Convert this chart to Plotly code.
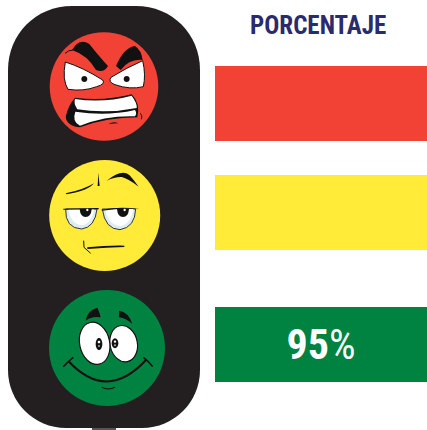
import re
import math
import plotly.graph_objects as go

W, H = 427, 430

# ---- data ----
levels = ["Rojo", "Amarillo", "Verde"]
bar_centers = [103.5, 212.5, 344.5]
bar_colors = ["#F24236", "#FFEB38", "#008241"]
bar_labels = ["", "", "<b>95</b>%"]
title_text = "PORCENTAJE"

BLACK = "#231F20"
INK = "#111111"


def z(path, ox=0, oy=0):
    """Convert a path traced on a 3x crop into page coordinates."""
    out, i = [], 0
    for tok in re.findall(r"[A-Z]|-?\d+\.?\d*", path):
        if tok.isalpha():
            out.append(tok)
        else:
            v = float(tok) / 3 + (oy if i % 2 else ox)
            out.append(f"{v:.2f}")
            i += 1
    s = ""
    for t in out:
        s += (t if t.isalpha() else t + " ")
    return s.strip()


def shp(path, fill=None, line=None, lw=0):
    d = dict(type="path", path=path, xref="x", yref="y", layer="above")
    d["fillcolor"] = fill if fill else "rgba(0,0,0,0)"
    d["line"] = dict(color=line if line else "rgba(0,0,0,0)", width=lw)
    return d


def ell(cx, cy, rx, ry, rot=0.0):
    k = 0.5523
    pts = [(rx, 0), (rx, k * ry), (k * rx, ry), (0, ry), (-k * rx, ry), (-rx, k * ry),
           (-rx, 0), (-rx, -k * ry), (-k * rx, -ry), (0, -ry), (k * rx, -ry), (rx, -k * ry), (rx, 0)]
    a = math.radians(rot)
    p = [(cx + x * math.cos(a) - y * math.sin(a), cy + x * math.sin(a) + y * math.cos(a)) for x, y in pts]
    s = f"M {p[0][0]:.1f},{p[0][1]:.1f} "
    for i in range(1, 13, 3):
        s += f"C {p[i][0]:.1f},{p[i][1]:.1f} {p[i+1][0]:.1f},{p[i+1][1]:.1f} {p[i+2][0]:.1f},{p[i+2][1]:.1f} "
    return s + "Z"


shapes = []
# housing
shapes.append(dict(type="rect", x0=92, x1=116, y0=426, y1=430, xref="x", yref="y",
                   fillcolor="#555555", line=dict(width=0)))
shapes.append(shp("M 72,6 L 136,6 C 172,6 200,34 200,70 L 200,370 C 200,402 174,428 142,428 "
                  "L 66,428 C 34,428 8,402 8,370 L 8,70 C 8,34 36,6 72,6 Z", fill=BLACK))

# lamps
for cx, cy, r, c in [(104, 86.5, 54.3, bar_colors[0]), (104.7, 215.5, 55.5, bar_colors[1]), (107, 348, 58, bar_colors[2])]:
    shapes.append(dict(type="circle", x0=cx - r, x1=cx + r, y0=cy - r, y1=cy + r, xref="x", yref="y",
                       fillcolor=c, line=dict(width=0)))

# angry face
R = (0, 0)
for p, f, l, w in [
    ("M 216,150 Q 238,112 268,132 Q 298,170 324,198 Q 312,220 288,210 Q 262,165 216,150 Z", INK, None, 0),
    ("M 348,198 Q 372,142 405,138 Q 424,150 428,180 Q 388,176 362,210 Z", INK, None, 0),
    ("M 196,186 Q 250,203 308,240 Q 318,252 290,260 Q 250,275 204,268 Q 186,240 196,186 Z", "#FFFFFF", INK, 1),
    ("M 428,182 Q 380,203 333,232 Q 323,246 345,254 Q 390,270 430,260 Q 438,225 428,182 Z", "#FFFFFF", INK, 1),
    ("M 225,293 Q 310,305 395,283 Q 422,310 412,352 Q 320,352 240,382 Q 200,378 197,350 Q 205,315 225,293 Z", INK, None, 0),
    ("M 225,297 Q 310,310 395,287 Q 412,310 410,324 Q 320,342 232,328 Q 220,310 225,297 Z", "#FFFFFF", None, 0),
    ("M 226,335 Q 320,350 405,330 Q 412,340 405,349 Q 320,346 240,377 Q 215,365 226,335 Z", "#FFFFFF", None, 0),
    ("M 325,373 Q 340,362 355,370 Q 340,370 325,373 Z", INK, None, 0),
    ("M 195,160 Q 205,150 220,150", None, INK, 1),
    ("M 420,340 Q 428,345 424,358", None, INK, 1),
]:
    shapes.append(shp(z(p, *R), f, l, w))
for cx, cy in [(253, 237), (380, 237)]:
    shapes.append(shp(z(ell(cx, cy, 9, 9), *R), INK))

# bored face
Y = (0, 150)
for p, f, l, w in [
    ("M 197,130 Q 250,120 282,100 Q 265,122 200,133 Z", INK, None, 0),
    ("M 295,68 L 299,108 L 293,108 Z", INK, None, 0),
    ("M 320,92 Q 365,55 388,75 Q 402,90 416,110 Q 385,86 365,81 Q 345,80 320,92 Z", INK, None, 0),
    ("M 197,177 Q 195,235 245,237 Q 285,232 291,177 Z", "#DCECF2", "#333333", 1),
    ("M 307,177 Q 315,238 360,239 Q 405,232 407,177 Z", "#DCECF2", "#333333", 1),
    ("M 205,177 Q 212,222 245,226 Q 275,222 283,177 Z", "#FFFFFF", None, 0),
    ("M 315,177 Q 325,225 360,228 Q 392,224 400,177 Z", "#FFFFFF", None, 0),
    ("M 239,177 Q 241,201 257,201 Q 273,201 275,177 Z", INK, None, 0),
    ("M 351,177 Q 353,201 369,201 Q 385,201 387,177 Z", INK, None, 0),
    ("M 190,176 L 296,174 L 296,178 L 190,179 Z", INK, None, 0),
    ("M 304,179 Q 360,169 419,177 Q 360,174 306,182 Z", INK, None, 0),
    ("M 262,292 Q 320,286 373,287 L 373,291 Q 320,292 262,297 Z", INK, None, 0),
    ("M 251,272 L 252,292 L 272,310", None, INK, 1),
]:
    shapes.append(shp(z(p, *Y), f, l, w))
for cx, cy in [(262, 180), (374, 180)]:
    shapes.append(shp(z(ell(cx, cy, 3.5, 3.5), *Y), "#FFFFFF"))

# happy face
G = (0, 280)
for p, f, l, w in [
    ("M 257,122 Q 262,90 292,83 Q 300,100 302,112 Q 275,108 257,122 Z", INK, None, 0),
    ("M 357,92 Q 385,95 397,132 Q 380,115 357,112 Z", INK, None, 0),
    (ell(371, 191, 41, 55, -12), "#FFFFFF", INK, 1.2),
    (ell(284, 190, 45, 64, -12), "#FFFFFF", INK, 1.2),
    (ell(297, 192, 10, 18), INK, None, 0),
    (ell(345, 190, 10, 15), INK, None, 0),
    (ell(297, 186, 4, 4), "#FFFFFF", None, 0),
    (ell(345, 185, 3.5, 3.5), "#FFFFFF", None, 0),
    (ell(297, 198, 2, 3), "#FFFFFF", None, 0),
    (ell(345, 196, 2, 3), "#FFFFFF", None, 0),
    ("M 205,243 Q 320,367 438,240", None, INK, 2),
    ("M 190,260 Q 203,245 220,232", None, INK, 1.5),
    ("M 430,232 Q 447,245 458,260", None, INK, 1.5),
    ("M 305,322 Q 325,332 345,322", None, INK, 1.2),
]:
    shapes.append(shp(z(p, *G), f, l, w))

fig = go.Figure(go.Bar(
    orientation="h",
    y=bar_centers,
    x=[212] * 3,
    base=215,
    width=75,
    marker=dict(color=bar_colors, line=dict(width=0)),
    text=bar_labels,
    textposition="inside",
    insidetextanchor="middle",
    textangle=0,
    textfont=dict(family="Liberation Sans Narrow, Roboto Condensed, Roboto", size=42, color="#FFFFFF"),
    hoverinfo="skip",
    showlegend=False,
))

fig.update_layout(
    width=W, height=H,
    margin=dict(l=0, r=0, t=0, b=0),
    paper_bgcolor="#FFFFFF", plot_bgcolor="#FFFFFF",
    xaxis=dict(range=[0, W], visible=False, fixedrange=True),
    yaxis=dict(range=[H, 0], visible=False, fixedrange=True),
    shapes=shapes,
    annotations=[dict(text=title_text, x=318, y=25.5, xref="x", yref="y", showarrow=False,
                      font=dict(family="Liberation Sans Narrow, Roboto Condensed, Roboto", size=25, color="#2A2B6B", weight="bold"))],
)
fig.write_html("out.html", config=dict(displayModeBar=False), post_script="document.body.style.margin='0';")
